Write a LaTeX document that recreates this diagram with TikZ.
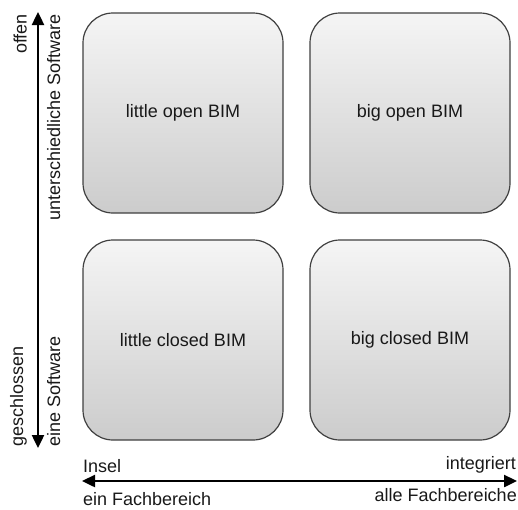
\documentclass[tikz,border=0pt]{standalone}
\usepackage{fontspec}
\setmainfont{Liberation Sans}
\usetikzlibrary{arrows.meta}
\tikzset{
  quad/.style={draw=black!75, line width=1.2pt, rounded corners=30pt,
    top color=black!4, bottom color=black!20, minimum width=200pt, minimum height=200pt,
    font=\fontsize{18}{21}\selectfont, text=black!90},
  axis/.style={line width=2.4pt, {Triangle[length=13pt,width=12pt]}-{Triangle[length=13pt,width=12pt]}},
  lab/.style={font=\fontsize{18}{21}\selectfont, inner sep=0pt, text=black!90}
}
\begin{document}
\begin{tikzpicture}[x=1pt,y=-1pt]
\useasboundingbox (0,0) rectangle (518,509);
\node[quad] (lo) at (183,113) {little open BIM};
\node[quad] (bo) at (410,113) {big open BIM};
\node[quad] (lc) at (183,340) {little closed BIM};
\node[quad] (bc) at (410,340) {big closed BIM};
% vertical axis
\coordinate (vt) at (38,12);
\coordinate (vb) at (38,448);
\draw[axis] (vb) -- (vt);
\node[lab, rotate=90, anchor=south east] (offen) at (27,14) {offen};
\node[lab, rotate=90, anchor=north east] (us) at (47,14) {unterschiedliche Software};
\node[lab, rotate=90, anchor=south west] (gs) at (27,447) {geschlossen};
\node[lab, rotate=90, anchor=north west] (es) at (47,447) {eine Software};
% horizontal axis
\coordinate (hl) at (82,481);
\coordinate (hr) at (517,481);
\draw[axis] (hl) -- (hr);
\node[lab, anchor=west] (insel) at (83,466) {Insel};
\node[lab, anchor=east] (integ) at (516,465) {integriert};
\node[lab, anchor=west] (einf) at (83,499) {ein Fachbereich};
\node[lab, anchor=east] (allef) at (517,495) {alle Fachbereiche};
\end{tikzpicture}
\end{document}
